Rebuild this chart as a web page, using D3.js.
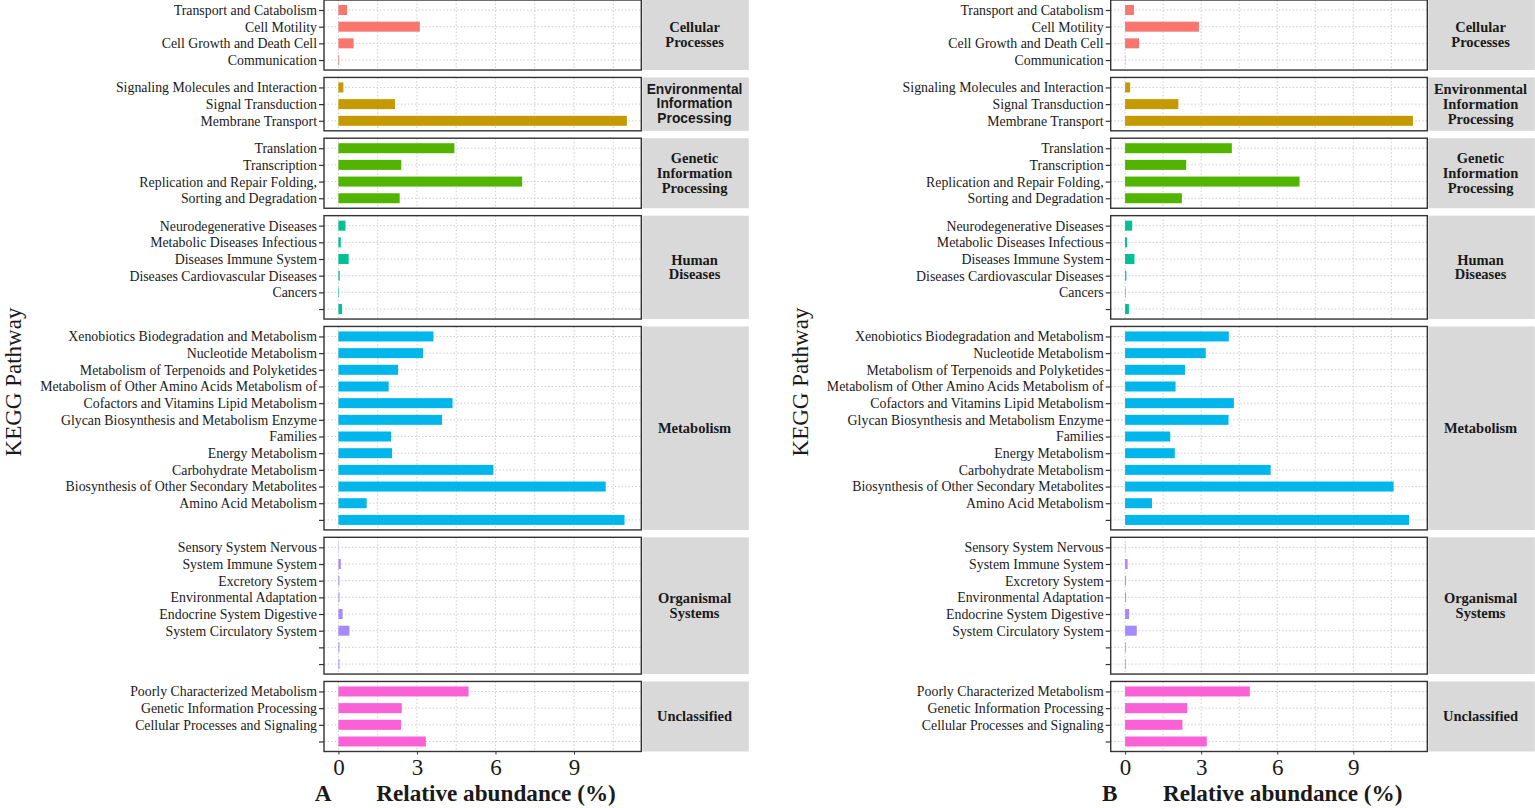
<!DOCTYPE html>
<html><head><meta charset="utf-8">
<script src="https://cdn.jsdelivr.net/npm/d3@7/dist/d3.min.js"></script>
<style>
body{margin:0;background:#fff;}
svg{display:block;font-family:"Liberation Serif","Times New Roman",serif;}
</style></head><body>
<svg id="chart" width="1535" height="808"></svg>
<script>
// facet strips, one per KEGG level-1 group
const stripLines=[['Cellular','Processes'],['Environmental','Information','Processing'],['Genetic','Information','Processing'],['Human','Diseases'],['Metabolism'],['Organismal','Systems'],['Unclassified']];
const groupColors=['#F8766D','#C49A00','#53B400','#00C094','#00B6EB','#A58AFF','#FB61D7'];
// pathway labels per group, top to bottom
const pathways=[
 ['Transport and Catabolism','Cell Motility','Cell Growth and Death Cell','Communication'],
 ['Signaling Molecules and Interaction','Signal Transduction','Membrane Transport'],
 ['Translation','Transcription','Replication and Repair Folding,','Sorting and Degradation'],
 ['Neurodegenerative Diseases','Metabolic Diseases Infectious','Diseases Immune System','Diseases Cardiovascular Diseases','Cancers',''],
 ['Xenobiotics Biodegradation and Metabolism','Nucleotide Metabolism','Metabolism of Terpenoids and Polyketides','Metabolism of Other Amino Acids Metabolism of','Cofactors and Vitamins Lipid Metabolism','Glycan Biosynthesis and Metabolism Enzyme','Families','Energy Metabolism','Carbohydrate Metabolism','Biosynthesis of Other Secondary Metabolites','Amino Acid Metabolism',''],
 ['Sensory System Nervous','System Immune System','Excretory System','Environmental Adaptation','Endocrine System Digestive','System Circulatory System','',''],
 ['Poorly Characterized Metabolism','Genetic Information Processing','Cellular Processes and Signaling','']
];
// relative abundance (%), sample A
const valuesA=[
 [0.33,3.11,0.58,0.03],
 [0.19,2.16,11.02],
 [4.43,2.40,7.02,2.34],
 [0.27,0.09,0.39,0.05,0.02,0.14],
 [3.63,3.23,2.28,1.92,4.36,3.96,2.01,2.05,5.92,10.21,1.08,10.93],
 [0.01,0.09,0.04,0.04,0.16,0.42,0.04,0.04],
 [4.97,2.42,2.39,3.34]
];
// relative abundance (%), sample B
const valuesB=[
 [0.35,2.91,0.55,0.01],
 [0.20,2.10,11.35],
 [4.21,2.41,6.88,2.24],
 [0.28,0.08,0.37,0.05,0.02,0.15],
 [4.09,3.18,2.36,1.99,4.29,4.08,1.78,1.96,5.74,10.59,1.06,11.20],
 [0.01,0.10,0.04,0.04,0.16,0.46,0.03,0.03],
 [4.92,2.45,2.26,3.22]
];
const xTicks=[0,3,6,9];
const xGrid=[0,1.5,3,4.5,6,7.5,9,10.5];

const svg=d3.select('#chart');
const plotTop=0,plotBottom=751.5,gap=7.4;
const units=pathways.map(p=>p.length+0.2);
const step=(plotBottom-plotTop-gap*(pathways.length-1))/d3.sum(units);
let yy=plotTop;
const facets=pathways.map((p,i)=>{const h=units[i]*step;const f={i,y0:yy,y1:yy+h};yy+=h+gap;return f;});
const serif='"Liberation Serif","Times New Roman",serif';

function drawPanel(o){
 const g=svg.append('g');
 const max=d3.max(o.values.flat());
 const x=d3.scaleLinear().domain([-max*0.05,max*1.05]).range([o.left,o.right]);
 facets.forEach(f=>{
  const labels=pathways[f.i];
  const y=d3.scalePoint().domain(d3.range(labels.length)).range([f.y0,f.y1]).padding(0.6);
  const bh=y.step()*0.6;
  const fg=g.append('g');
  fg.append('rect').attr('x',o.left).attr('y',f.y0).attr('width',o.right-o.left).attr('height',f.y1-f.y0).attr('fill','#fff');
  fg.selectAll('line.vg').data(xGrid).join('line').attr('class','vg')
   .attr('x1',d=>x(d)).attr('x2',d=>x(d)).attr('y1',f.y0).attr('y2',f.y1)
   .attr('stroke','#c8c8c8').attr('stroke-width',0.9).attr('stroke-dasharray','1.5,2');
  fg.selectAll('line.hg').data(d3.range(labels.length)).join('line').attr('class','hg')
   .attr('x1',o.left).attr('x2',o.right).attr('y1',d=>y(d)).attr('y2',d=>y(d))
   .attr('stroke','#c8c8c8').attr('stroke-width',0.9).attr('stroke-dasharray','1.5,2');
  fg.selectAll('rect.bar').data(o.values[f.i]).join('rect').attr('class','bar')
   .attr('x',x(0)).attr('y',(d,i)=>y(i)-bh/2).attr('width',d=>x(d)-x(0)).attr('height',bh)
   .attr('fill',groupColors[f.i]);
  fg.append('rect').attr('x',o.left).attr('y',f.y0).attr('width',o.right-o.left).attr('height',f.y1-f.y0)
   .attr('fill','none').attr('stroke','#333').attr('stroke-width',1.4);
  const ax=fg.append('g').attr('transform',`translate(${o.left},0)`)
   .call(d3.axisLeft(y).tickSize(5).tickPadding(2).tickFormat(i=>labels[i]));
  ax.select('.domain').remove();
  ax.selectAll('line').attr('stroke','#333').attr('stroke-width',1.2);
  ax.selectAll('text').attr('font-family',serif).attr('font-size',13.85).attr('fill','#1a1a1a');
  // strip
  const sx=o.right+1,sw=106.5;
  fg.append('rect').attr('x',sx).attr('y',f.y0).attr('width',sw).attr('height',f.y1-f.y0).attr('fill','#d9d9d9');
  const lines=stripLines[f.i],lh=14.8,cy=(f.y0+f.y1)/2-0.5;
  const sans=o.sansEnv&&f.i===1;
  fg.append('text').attr('x',sx+sw/2-1).attr('text-anchor','middle')
   .attr('font-family',sans?'"Liberation Sans",Arial,sans-serif':serif)
   .attr('font-weight','bold').attr('font-size',sans?13.8:14.5).attr('fill','#1a1a1a')
   .selectAll('tspan').data(lines).join('tspan').attr('x',sx+sw/2-1)
   .attr('y',(d,k)=>cy+(k-(lines.length-1)/2)*lh).attr('dy','0.35em').text(d=>d);
 });
 const xa=g.append('g').attr('transform',`translate(0,${plotBottom})`)
  .call(d3.axisBottom(x).tickValues(xTicks).tickSize(3).tickPadding(4).tickFormat(d3.format('d')));
 xa.select('.domain').remove();
 xa.selectAll('line').attr('stroke','#333');
 xa.selectAll('text').attr('font-family',serif).attr('font-size',23).attr('fill','#1a1a1a');
 g.append('text').attr('x',o.left+172).attr('y',793).attr('dy','0.35em').attr('text-anchor','middle')
  .attr('font-weight','bold').attr('font-size',23.2).attr('fill','#1a1a1a').text('Relative abundance (%)');
 g.append('text').attr('x',o.left-1).attr('y',793).attr('dy','0.35em').attr('text-anchor','middle')
  .attr('font-weight','bold').attr('font-size',23.2).attr('fill','#1a1a1a').text(o.tag);
 g.append('text').attr('transform',`translate(${o.ytitleX},382) rotate(-90)`).attr('dy','0.35em').attr('text-anchor','middle')
  .attr('font-size',23).attr('fill','#1a1a1a').text('KEGG Pathway');
}

drawPanel({values:valuesA,left:324,right:641.3,tag:'A',ytitleX:13,sansEnv:true});
drawPanel({values:valuesB,left:1110.7,right:1427.3,tag:'B',ytitleX:800,sansEnv:false});
</script>
</body></html>
